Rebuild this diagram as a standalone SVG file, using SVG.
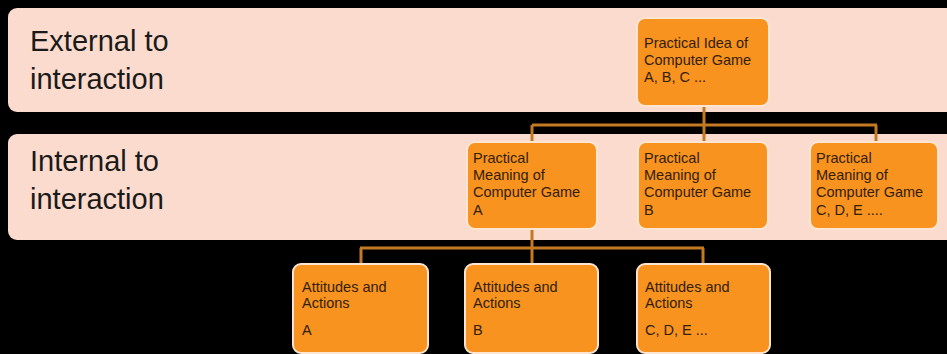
<svg xmlns="http://www.w3.org/2000/svg" width="947" height="354" viewBox="0 0 947 354">
<style>
.band{fill:#FADBCD;}
.big{font-family:"Liberation Sans",Arial,sans-serif;font-size:29px;fill:#1a1a1a;}
.node rect{fill:#F7931E;stroke:#FCE6D2;stroke-width:2;}
.node text{font-family:"Liberation Sans",Arial,sans-serif;font-size:14.5px;fill:#33200a;}
.conn{fill:none;stroke:#C47A22;stroke-width:3;}
</style>
<rect x="0" y="0" width="947" height="354" fill="#000"/>
<g id="band-external">
<rect class="band" x="8" y="8" width="960" height="104" rx="9"/>
<text class="big" x="30" y="51">External to</text>
<text class="big" x="30" y="89">interaction</text>
</g>
<g id="band-internal">
<rect class="band" x="8" y="134" width="960" height="106" rx="9"/>
<text class="big" x="30" y="171">Internal to</text>
<text class="big" x="30" y="209">interaction</text>
</g>
<g id="connectors">
<path class="conn" d="M704 106 V125 M532 125 H877 M532 125 V142 M704 125 V142 M876 125 V142"/>
<path class="conn" d="M532 229 V248 M360 248 H704 M361 248 V264 M532 248 V264 M703 248 V264"/>
</g>
<g id="idea" class="node">
<rect x="637" y="18" width="132" height="88" rx="8"/>
<text x="644" y="48">Practical Idea of</text>
<text x="644" y="65">Computer Game</text>
<text x="644" y="82">A, B, C ...</text>
</g>
<g id="meaning-a" class="node">
<rect x="467" y="142" width="130" height="87" rx="8"/>
<text x="473" y="163">Practical</text>
<text x="473" y="180">Meaning of</text>
<text x="473" y="197">Computer Game</text>
<text x="473" y="215">A</text>
</g>
<g id="meaning-b" class="node">
<rect x="638" y="142" width="130" height="87" rx="8"/>
<text x="644" y="163">Practical</text>
<text x="644" y="180">Meaning of</text>
<text x="644" y="197">Computer Game</text>
<text x="644" y="215">B</text>
</g>
<g id="meaning-cde" class="node">
<rect x="810" y="142" width="128" height="87" rx="8"/>
<text x="816" y="163">Practical</text>
<text x="816" y="180">Meaning of</text>
<text x="816" y="197">Computer Game</text>
<text x="816" y="215">C, D, E ....</text>
</g>
<g id="actions-a" class="node">
<rect x="293" y="264" width="135" height="89" rx="8"/>
<text x="302" y="292">Attitudes and</text>
<text x="302" y="308">Actions</text>
<text x="302" y="335">A</text>
</g>
<g id="actions-b" class="node">
<rect x="465" y="264" width="133" height="89" rx="8"/>
<text x="473" y="292">Attitudes and</text>
<text x="473" y="308">Actions</text>
<text x="473" y="335">B</text>
</g>
<g id="actions-cde" class="node">
<rect x="637" y="264" width="133" height="89" rx="8"/>
<text x="645" y="292">Attitudes and</text>
<text x="645" y="308">Actions</text>
<text x="645" y="335">C, D, E ...</text>
</g>
</svg>
